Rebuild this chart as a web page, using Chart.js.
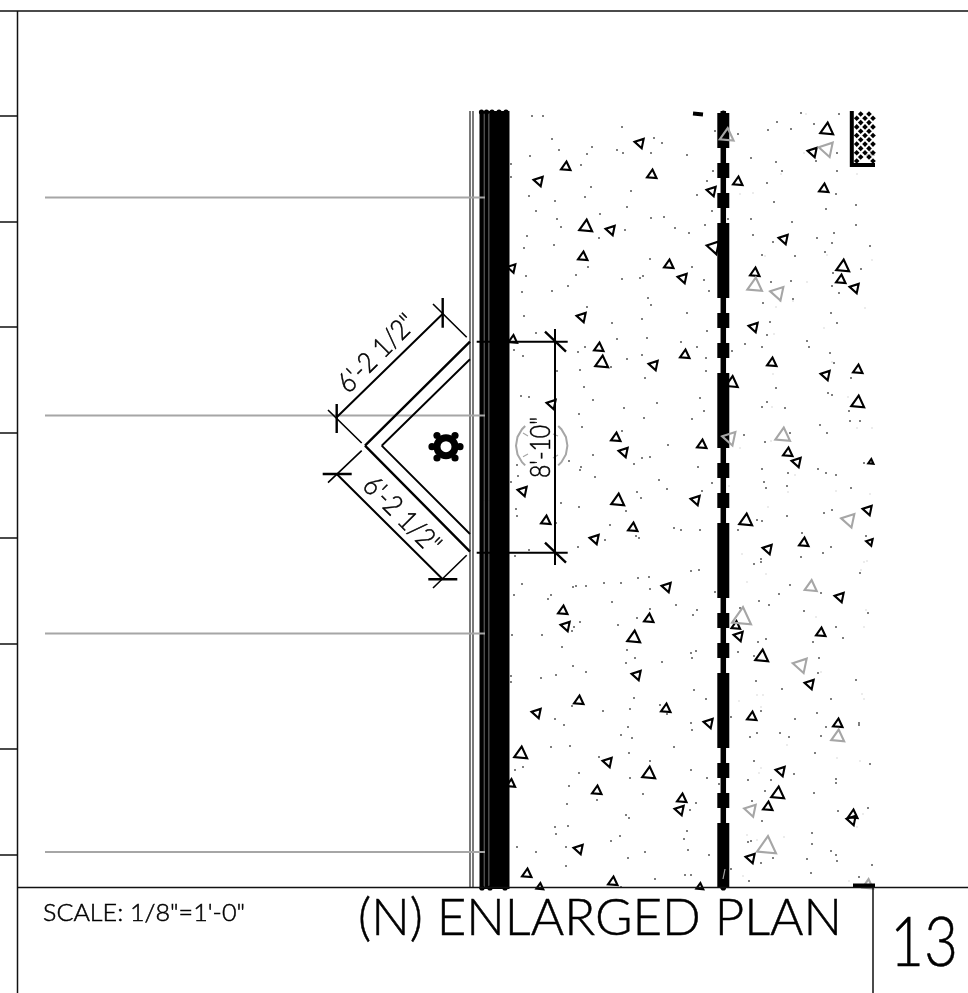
<!DOCTYPE html>
<html><head><meta charset="utf-8">
<style>html,body{margin:0;padding:0;background:#fff;overflow:hidden}canvas{display:block}</style>
<script src="https://cdn.jsdelivr.net/npm/chart.js@4"></script>
</head><body><canvas id="c" width="968" height="993"></canvas>
<script>
// line groups: [x1,y1,x2,y2]
const frameLines=[[0,11,968,11],[17.5,11,17.5,993],[0,116,17,116],[0,222,17,222],[0,327,17,327],[0,433,17,433],[0,538,17,538],[0,644,17,644],[0,749,17,749],[0,855,17,855],[17,887.5,968,887.5],[873,887,873,993]];
const leaderLines=[[45,197.5,485,197.5],[45,415.5,485,415.5],[45,633.5,485,633.5],[45,852,485,852]];
const wallThin=[[470,111,470,888],[473,111,473,888]];
const wallSolid=[[494.5,111,494.5,889]];
const wallSlits=[[484.3,113,484.3,888],[488.8,113,488.8,888]];
const railCore=[[723.3,111,723.3,889]];
const railBlocks=[[723.3,113,723.3,148],[723.3,163,723.3,178],[723.3,193,723.3,208],[723.3,223,723.3,298],[723.3,313,723.3,328],[723.3,343,723.3,358],[723.3,373,723.3,448],[723.3,463,723.3,478],[723.3,493,723.3,508],[723.3,523,723.3,598],[723.3,613,723.3,628],[723.3,643,723.3,658],[723.3,673,723.3,748],[723.3,763,723.3,778],[723.3,793,723.3,808],[723.3,823,723.3,888]];
const capDots=[[723.3,113],[723.3,888],[481.5,112],[486.5,112],[492,112],[499,112],[506,112],[482,888],[490,888],[505,888]];
const chevronOuter=[[470,341.7,365,445.7],[365,445.7,470,551.7]];
const chevronInner=[[470,359.3,381.7,445.7],[381.7,445.7,470,534]];
const dimLines=[[336.7,417.3,443.3,313.3],[336.7,474,442.7,579.3],[555,329,555,565],[476.7,341.7,567.7,341.7],[476.7,552.7,567.7,552.7]];
const dimThin=[[433,304,466.7,337.3],[328,410,361.7,443],[328,482.7,361.7,450.7],[466.7,555.3,433,588]];
const dimTicks=[[336.7,404,336.7,433],[442.7,298,442.7,327.7],[322.7,474,351.7,474],[428.3,579.3,457.3,579.3],[545,331.7,566,351.7],[545,542.7,566,562.7]];
const hatchFrame=[[851.8,111,851.8,167],[850,165,875,165],[853,885.5,875,885.5],[693,113.5,703,114.5]];
const grayMarks=[[868,147,872,155],[866,155,875,155],[725,869,723,879],[558,436,553,434],[558,455,553,458],[523,456.7,528,454],[523,433,528,436]];
const arcLeft=[[525.2,426],[522,429.2],[517.5,436.9],[516,445.7],[517.5,454.5],[522,462.2],[525.2,465.4]];
const arcRight=[[558.2,426],[561.4,429.2],[565.9,436.9],[567.4,445.7],[565.9,454.5],[561.4,462.2],[558.2,465.4]];
const gearRing=[[446,446.7]];
const gearKnobs=[[437,435.5],[455,435.5],[460,446.7],[455,458],[437,458],[432,446.7]];
const hatchDiamonds=[[860.7,114],[869,114],[856.7,118.3],[865,118.3],[873,118.3],[860.7,122.6],[869,122.6],[856.7,126.9],[865,126.9],[873,126.9],[860.7,131.2],[869,131.2],[856.7,135.5],[865,135.5],[873,135.5],[860.7,139.8],[869,139.8],[856.7,144.1],[865,144.1],[873,144.1],[860.7,148.4],[869,148.4],[856.7,152.7],[865,152.7],[873,152.7],[860.7,157],[869,157],[856.7,161],[873,161]];
// triangles: [x,y,radius,rotation]
const triBlack=[[640,143,5.5,-78],[566,167,5.5,5],[539,181,5.5,-78],[652,175,5.5,5],[586,227,7.5,5],[611,230,5.5,-78],[583,257,5.5,5],[669,265,5.5,5],[683,278,5.5,-78],[512,268,5,-78],[714,247,7.5,-78],[738,182,5.5,5],[712,191,5.5,-78],[827,130,7.5,5],[813,152,5.5,-78],[824,189,5.5,5],[784,239,5.5,-78],[755,273,5.5,5],[843,267,7.5,5],[841,280,5.5,5],[855,288,5.5,-78],
[582,317,5.5,-78],[599,348,5.5,5],[602,363,7.5,5],[654,365,5.5,-78],[685,355,5.5,5],[552,404,5.5,-78],[616,438,5.5,5],[624,452,5.5,-78],[702,445,5.5,5],[523,491,5.5,-78],[546,521,5.5,5],[618,501,7.5,5],[633,528,5.5,5],[595,539,5.5,-78],[696,500,5.5,-78],[667,587,5.5,-78],[513,340,5,5],
[563,611,5.5,5],[566,626,5.5,-78],[649,619,5.5,5],[634,638,7.5,5],[637,675,5.5,-78],[579,701,5.5,5],[537,713,5.5,-78],[666,709,5.5,5],[709,723,5.5,-78],[521,754,7.5,5],[608,762,5.5,-78],[649,774,7.5,5],[597,791,5.5,5],[682,799,5.5,5],[680,810,5.5,-78],[579,849,5.5,-78],[527,874,5.5,5],[613,882,5.5,5],[540,887,4,5],[700,887,4,5],[511,784,5,5],
[754,327,5.5,-78],[772,363,5.5,5],[826,375,5.5,-78],[858,370,5.5,5],[858,403,7.5,5],[732,383,7,5],[788,453,5.5,5],[797,462,5.5,-78],[871,462,3,5],[868,510,5.5,-78],[746,521,7.5,5],[768,549,5.5,-78],[804,543,5.5,5],[870,542,4,-78],[840,597,5.5,-78],
[736,626,5,5],[739,636,5.5,-78],[762,657,7.5,5],[821,633,5.5,5],[810,684,5.5,-78],[752,717,5.5,5],[838,724,5.5,5],[781,771,5.5,-78],[778,794,7.5,5],[768,807,5.5,5],[853,815,5.5,5],[852,820,5.5,-78],[751,858,5.5,-78]];
const triGray=[[727,136,8,5],[827,149,8.5,-78],[755,286,8.5,5],[778,293,8,-78],[783,436,8.5,5],[730,438,8,-78],[849,520,8,-78],[811,587,7,5],[742,618,11,5],[801,665,8.5,-78],[838,737,7.5,5],[751,810,7,-78],[767,847,11,5],[868,885,6,5]];
// speckle
const dotsBlack=[[532,116],[543,116],[622,127],[552,139],[654,138],[662,143],[592,147],[559,150],[587,154],[617,150],[623,153],[651,153],[530,156],[687,155],[511,164],[581,165],[511,177],[591,187],[631,191],[529,196],[585,197],[555,201],[627,207],[536,211],[600,214],[557,219],[651,218],[664,217],[561,227],[675,228],[625,230],[689,233],[527,236],[599,238],[554,245],[524,248],[650,259],[588,267],[692,267],[526,276],[576,275],[643,276],[640,278],[622,279],[704,280],[568,286],[522,292],[552,291],[709,291],[648,298],[715,131],[738,134],[713,171],[707,181],[697,195],[712,211],[705,225],[728,219],[801,113],[839,114],[777,122],[814,124],[768,130],[791,129],[837,153],[751,158],[776,162],[816,161],[782,171],[837,171],[767,183],[836,194],[774,202],[856,205],[826,209],[751,219],[792,222],[856,225],[753,235],[834,233],[773,242],[817,238],[832,243],[870,246],[825,252],[762,255],[795,256],[861,269],[833,273],[771,282],[791,281],[832,286],[839,293],[793,299],
[587,307],[651,305],[524,316],[687,313],[642,319],[612,323],[707,331],[536,333],[617,339],[647,338],[681,342],[697,347],[585,347],[578,352],[514,350],[523,356],[642,355],[706,358],[627,359],[611,367],[580,370],[706,371],[645,378],[557,371],[584,387],[521,396],[529,397],[700,398],[593,400],[657,403],[624,408],[704,411],[579,414],[644,418],[692,419],[582,427],[622,431],[668,445],[593,455],[569,461],[634,464],[642,458],[650,457],[698,467],[581,467],[580,470],[517,465],[518,476],[595,477],[659,480],[511,482],[712,483],[667,489],[702,491],[637,492],[641,498],[561,503],[579,507],[516,509],[517,516],[626,511],[556,523],[610,525],[674,528],[681,530],[700,530],[636,536],[639,538],[605,540],[578,547],[529,550],[515,556],[691,571],[699,570],[638,578],[649,577],[621,583],[604,583],[522,584],[586,586],[573,587],[576,586],[650,589],[715,592],[551,595],[514,595],[548,599],
[612,602],[676,605],[650,609],[697,610],[693,615],[637,618],[618,625],[580,622],[574,627],[572,631],[542,635],[512,635],[562,647],[627,650],[696,651],[691,653],[692,658],[635,658],[626,663],[662,662],[573,666],[586,672],[556,675],[541,678],[511,676],[511,682],[694,690],[706,699],[634,698],[572,706],[660,705],[630,709],[603,711],[667,714],[555,719],[564,725],[691,723],[692,730],[628,727],[621,735],[632,738],[551,747],[570,746],[674,747],[629,753],[599,757],[650,761],[523,767],[515,770],[691,770],[579,773],[630,778],[707,778],[719,784],[569,786],[643,794],[597,800],[567,804],[696,803],[690,810],[626,815],[629,818],[568,826],[555,827],[556,834],[687,831],[620,836],[684,839],[611,841],[517,847],[536,852],[566,847],[688,850],[645,852],[709,855],[628,858],[566,866],[655,879],[685,875],[691,875],[621,887],
[763,303],[831,313],[770,322],[837,323],[767,335],[807,341],[745,344],[762,347],[809,347],[732,351],[830,353],[834,363],[851,378],[776,388],[828,393],[832,395],[767,402],[762,407],[785,408],[849,411],[850,421],[860,421],[820,425],[827,433],[790,433],[744,435],[765,442],[864,463],[762,469],[818,469],[788,473],[826,473],[836,475],[764,482],[787,486],[766,488],[851,488],[832,510],[824,513],[787,516],[757,520],[762,521],[738,530],[802,533],[866,536],[831,547],[823,553],[761,559],[761,562],[801,557],[754,564],[860,573],[790,585],[779,594],[821,593],
[759,601],[769,605],[740,608],[804,611],[868,613],[836,627],[766,639],[758,642],[813,642],[843,638],[738,652],[819,658],[754,656],[818,673],[856,680],[756,681],[782,689],[831,699],[761,711],[817,713],[795,719],[731,717],[826,727],[859,723],[859,725],[750,737],[757,733],[780,733],[789,737],[821,736],[815,753],[754,761],[870,764],[794,774],[748,780],[771,780],[836,779],[836,783],[765,791],[814,793],[752,801],[838,811],[868,808],[762,821],[812,833],[748,842],[751,841],[812,844],[831,851],[836,855],[837,861],[807,859],[773,858],[761,863],[872,865],[811,873],[731,869],[859,877],[749,881]];
const dotsGray=[[806,114],[804,153],[781,174],[753,193],[740,194],[857,174],[765,256],[827,255],[872,260],[807,282],[780,301],[793,301],[776,307],[865,308],[824,328],[774,334],[832,362],[773,374],[848,397],[772,407],[857,428],[872,428],[771,441],[740,448],[795,475],[788,492],[836,491],[729,486],[870,494],[768,507],[742,554],[864,562],[867,561],[766,574],[861,570],[747,582],[816,617],[866,610],[864,627],[821,672],[757,695],[763,695],[739,701],[862,694],[864,699],[761,707],[787,745],[837,758],[860,761],[761,768],[759,773],[863,814],[857,827],[747,835],[757,840],[784,837],[743,876],[849,881]];
// text
const textStrings=["(N) ENLARGED PLAN","SCALE: 1/8\"=1'-0\"","13","6'-2 1/2\"","6'-2 1/2\"","8'-10\""];
const textCenters=[[600,916.5],[144,912],[924,941.5],[376,352.7],[402.7,514.3],[539.5,447.5]];
const textWidths=[484,202,68,98,97,61];
const textSizes=[52,24,68,28,28,28];
const textAngles=[0,0,0,-45,45,-90];

const BLACK='#000',GRAY='#a6a6a6';
function segs(list){const o=[];list.forEach(s=>{o.push({x:s[0],y:s[1]},{x:s[2],y:s[3]},{x:NaN,y:NaN});});return o;}
function poly(list){return list.map(p=>({x:p[0],y:p[1]}));}
function lineDs(data,color,width,order){return{type:'scatter',data,showLine:true,spanGaps:false,borderColor:color,backgroundColor:color,borderWidth:width,borderCapStyle:'butt',borderJoinStyle:'miter',pointRadius:0,pointHoverRadius:0,order};}
function ptDs(list,style,radius,color,order,extra){return Object.assign({type:'scatter',data:poly(list),showLine:false,pointStyle:style,pointRadius:radius,pointBackgroundColor:color,pointBorderColor:color,pointBorderWidth:0,order},extra||{});}
function triDs(list,color,width,order){return{type:'scatter',data:poly(list),showLine:false,pointStyle:'triangle',pointRadius:list.map(t=>t[2]),pointRotation:list.map(t=>t[3]),pointBackgroundColor:'rgba(0,0,0,0)',pointBorderColor:color,pointBorderWidth:width,order};}

const textPlugin={id:'planText',afterDatasetsDraw(chart){const c=chart.ctx;
  textStrings.forEach((t,i)=>{c.save();c.fillStyle='#000';c.strokeStyle='#000';c.lineWidth=0.5;c.font='300 '+textSizes[i]+'px Lato';c.textAlign='center';c.textBaseline='alphabetic';
    const m=c.measureText(t).width;
    c.translate(chart.scales.x.getPixelForValue(textCenters[i][0]),chart.scales.y.getPixelForValue(textCenters[i][1]));
    c.rotate(textAngles[i]*Math.PI/180);c.scale(textWidths[i]/m,1);
    c.fillText(t,0,textSizes[i]*0.36);c.strokeText(t,0,textSizes[i]*0.36);c.restore();});
}};

new Chart(document.getElementById('c'),{
 data:{datasets:[
  ptDs(dotsBlack,'rect',0.95,BLACK,90),
  ptDs(dotsGray,'rect',0.8,'#bdbdbd',91),
  lineDs(segs(wallSolid),BLACK,30,80),
  lineDs(segs(wallThin),'#222',1.2,79),
  lineDs(segs(wallSlits),'#555',0.7,78),
  lineDs(segs(railCore),BLACK,5.5,77),
  lineDs(segs(railBlocks),BLACK,12,76),
  ptDs(capDots,'circle',2.6,BLACK,75),
  triDs(triBlack,BLACK,2.1,70),
  triDs(triGray,GRAY,2.1,60),
  lineDs(segs(leaderLines),GRAY,2,50),
  lineDs(poly(arcLeft),GRAY,2,49),
  lineDs(poly(arcRight),GRAY,2,48),
  lineDs(segs(grayMarks),GRAY,1.2,47),
  lineDs(segs(chevronOuter),BLACK,2.4,40),
  lineDs(segs(chevronInner),BLACK,1.9,39),
  lineDs(segs(dimLines),BLACK,2,38),
  lineDs(segs(dimThin),BLACK,1.6,37),
  lineDs(segs(dimTicks),BLACK,2.4,36),
  lineDs(segs(hatchFrame),BLACK,4,30),
  ptDs(hatchDiamonds,'rectRot',2.8,BLACK,31),
  ptDs(gearRing,'circle',9,'rgba(0,0,0,0)',20,{pointBorderColor:BLACK,pointBorderWidth:7}),
  ptDs(gearKnobs,'circle',3.6,BLACK,21),
  lineDs(segs(frameLines),'#111',1.5,10)
 ]},
 options:{responsive:false,animation:false,devicePixelRatio:1,maintainAspectRatio:false,
  layout:{padding:0,autoPadding:false},
  plugins:{legend:{display:false},tooltip:{enabled:false},title:{display:false}},
  events:[],
  scales:{x:{type:'linear',min:0,max:968,display:false},y:{type:'linear',min:0,max:993,reverse:true,display:false}}},
 plugins:[textPlugin]
});
</script></body></html>
